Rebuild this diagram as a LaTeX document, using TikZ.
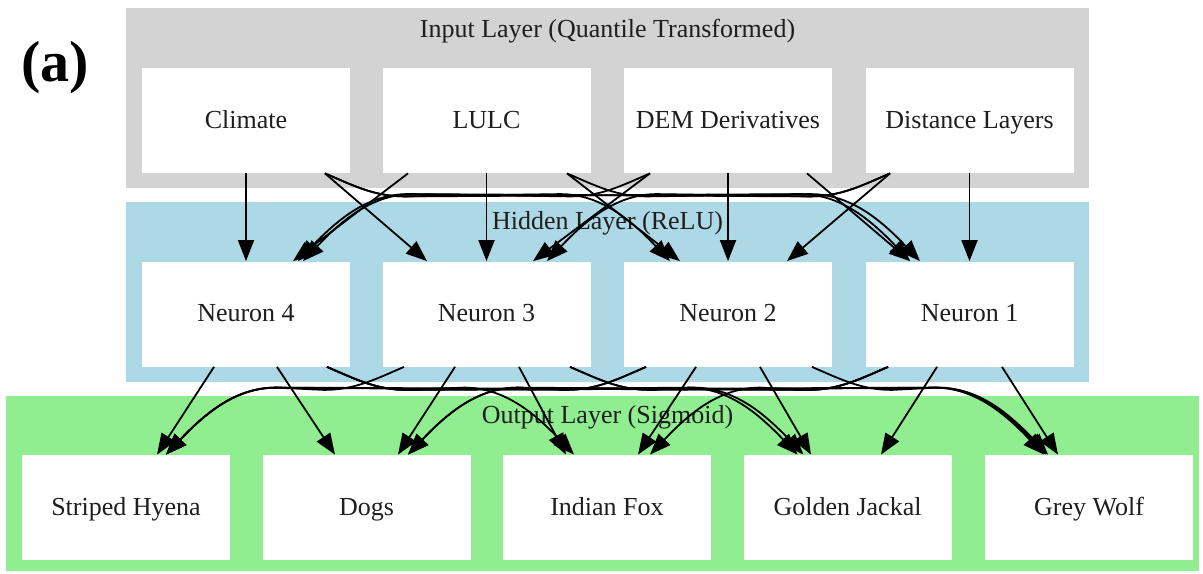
\documentclass[tikz,border=0pt]{standalone}
\usepackage{fontspec}
\setmainfont{Liberation Serif}
\usetikzlibrary{calc,arrows.meta}
\definecolor{cgray}{RGB}{211,211,211}
\definecolor{cblue}{RGB}{173,216,230}
\definecolor{cgreen}{RGB}{144,238,144}
\definecolor{ctext}{RGB}{30,30,30}
\tikzset{
  unit/.style={fill=white, draw=none, inner sep=0pt, minimum width=104pt, minimum height=52.5pt,
    font=\fontsize{13}{15}\selectfont, text=ctext, text height=10pt, text depth=2.5pt},
  title/.style={font=\fontsize{13}{15}\selectfont, text=ctext, inner sep=0pt, text height=10pt, text depth=2.5pt},
  edge/.style={line width=0.9pt, -{Triangle[length=10.5pt,width=8pt]}},
}
\newcommand\cedge[2]{\draw[edge] let \p1=(#1), \p2=(#2), \n1={sign(\x2-\x1)} in
  (\p1) .. controls ({\x1+(\n1)*15pt},{\y1-6.5pt}) and ({\x1+(\n1)*25pt},{\y1-11.5pt})
  .. ({\x1+(\n1)*40pt},{\y1-11.5pt}) -- ({\x2-(\n1)*55pt},{\y2+33.5pt})
  .. controls ({\x2-(\n1)*35pt},{\y2+33.5pt}) and ({\x2-(\n1)*20pt},{\y2+21pt}) .. (\p2);}
\begin{document}
\begin{tikzpicture}[x=0.5pt,y=-0.5pt]
\useasboundingbox (0,0) rectangle (1203,573);
% clusters
\fill[cgray] (126,8) rectangle (1089,188);
\fill[cblue] (126,202) rectangle (1089,382);
\fill[cgreen] (6,396) rectangle (1199,571);
\node[title] (tin) at (607.5,30) {Input Layer (Quantile Transformed)};
\node[title] (thid) at (607.5,222) {Hidden Layer (ReLU)};
\node[title] (tout) at (607.5,416) {Output Layer (Sigmoid)};
\node[font=\bfseries\fontsize{29}{31}\selectfont, inner sep=0pt] (lab) at (55,68) {(a)};
% input nodes
\node[unit] (clim) at (246,120.5) {Climate};
\node[unit] (lulc) at (486.5,120.5) {LULC};
\node[unit] (dem) at (728,120.5) {DEM Derivatives};
\node[unit] (dist) at (969.5,120.5) {Distance Layers};
% hidden nodes
\node[unit] (n4) at (246,314) {Neuron 4};
\node[unit] (n3) at (486.5,314) {Neuron 3};
\node[unit] (n2) at (728,314) {Neuron 2};
\node[unit] (n1) at (969.5,314) {Neuron 1};
% output nodes
\node[unit] (sh) at (126,507.5) {Striped Hyena};
\node[unit] (dogs) at (366.5,507.5) {Dogs};
\node[unit] (fox) at (607,507.5) {Indian Fox};
\node[unit] (jack) at (847.5,507.5) {Golden Jackal};
\node[unit] (wolf) at (1089,507.5) {Grey Wolf};
% input -> hidden
\draw[edge] (clim.south) -- (n4.north);
\draw[edge] ($(clim.south)+(79,0)$) -- ($(n3.north)+(-59.5,0)$);
\cedge{$(clim.south)+(79,0)$}{$(n2.north)+(-58,0)$}
\cedge{$(clim.south)+(79,0)$}{$(n1.north)+(-59.5,0)$}
\draw[edge] ($(lulc.south)+(-78.5,0)$) -- ($(n4.north)+(47,0)$);
\draw[edge] (lulc.south) -- (n3.north);
\draw[edge] ($(lulc.south)+(80.5,0)$) -- ($(n2.north)+(-48,0)$);
\cedge{$(lulc.south)+(80.5,0)$}{$(n1.north)+(-49.5,0)$}
\cedge{$(dem.south)+(-78,0)$}{$(n4.north)+(57,0)$}
\draw[edge] ($(dem.south)+(-78,0)$) -- ($(n3.north)+(46.5,0)$);
\draw[edge] (dem.south) -- (n2.north);
\draw[edge] ($(dem.south)+(79,0)$) -- ($(n1.north)+(-59.5,0)$);
\cedge{$(dist.south)+(-79.5,0)$}{$(n4.north)+(52,0)$}
\cedge{$(dist.south)+(-79.5,0)$}{$(n3.north)+(60.5,0)$}
\draw[edge] ($(dist.south)+(-79.5,0)$) -- ($(n2.north)+(59,0)$);
\draw[edge] (dist.south) -- (n1.north);
% hidden -> output
\draw[edge] ($(n4.south)+(-32,0)$) -- ($(sh.north)+(31,0)$);
\draw[edge] ($(n4.south)+(31,0)$) -- ($(dogs.north)+(-31.5,0)$);
\cedge{$(n4.south)+(81,0)$}{$(fox.north)+(-33,0)$}
\cedge{$(n4.south)+(81,0)$}{$(jack.north)+(-44,0)$}
\cedge{$(n4.south)+(81,0)$}{$(wolf.north)+(-41,0)$}
\cedge{$(n3.south)+(-82.5,0)$}{$(sh.north)+(40,0)$}
\draw[edge] ($(n3.south)+(-31.5,0)$) -- ($(dogs.north)+(31.5,0)$);
\draw[edge] ($(n3.south)+(32.5,0)$) -- ($(fox.north)+(-41,0)$);
\cedge{$(n3.south)+(83.5,0)$}{$(jack.north)+(-50,0)$}
\cedge{$(n3.south)+(83.5,0)$}{$(wolf.north)+(-45,0)$}
\cedge{$(n2.south)+(-82,0)$}{$(sh.north)+(40,0)$}
\cedge{$(n2.south)+(-82,0)$}{$(dogs.north)+(41.5,0)$}
\draw[edge] ($(n2.south)+(-32,0)$) -- ($(fox.north)+(31,0)$);
\draw[edge] ($(n2.south)+(32,0)$) -- ($(jack.north)+(-36.5,0)$);
\cedge{$(n2.south)+(84,0)$}{$(wolf.north)+(-43,0)$}
\cedge{$(n1.south)+(-81.5,0)$}{$(sh.north)+(40,0)$}
\cedge{$(n1.south)+(-81.5,0)$}{$(dogs.north)+(41.5,0)$}
\cedge{$(n1.south)+(-81.5,0)$}{$(fox.north)+(43,0)$}
\draw[edge] ($(n1.south)+(-32.5,0)$) -- ($(jack.north)+(33.5,0)$);
\draw[edge] ($(n1.south)+(32.5,0)$) -- ($(wolf.north)+(-31,0)$);
\end{tikzpicture}
\end{document}
